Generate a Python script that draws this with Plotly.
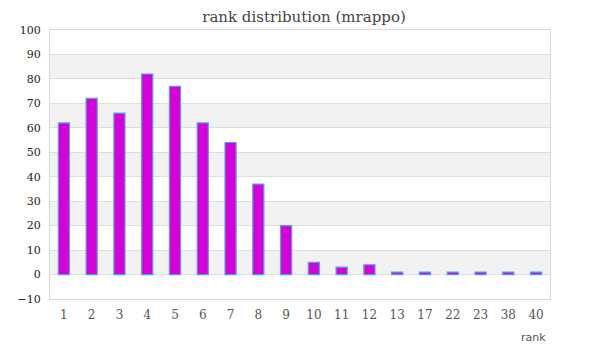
import plotly.graph_objects as go

ranks = ["1", "2", "3", "4", "5", "6", "7", "8", "9", "10", "11", "12", "13", "17", "22", "23", "38", "40"]
counts = [62, 72, 66, 82, 77, 62, 54, 37, 20, 5, 3, 4, 1, 1, 1, 1, 1, 1]
y_ticks = list(range(-10, 101, 10))

fig = go.Figure()
fig.add_trace(go.Bar(
    x=ranks, y=counts, width=0.4,
    marker=dict(color="#d800d8", line=dict(color="#4aa3f0", width=1.2)),
))

# alternating background bands
shapes = []
for lo in range(0, 100, 20):
    shapes.append(dict(type="rect", xref="paper", yref="y", x0=0, x1=1, y0=lo, y1=lo + 10,
                       fillcolor="#f2f2f2", line=dict(width=0), layer="below"))

serif = "Georgia, 'DejaVu Serif', 'Liberation Serif', serif"
fig.update_layout(
    width=592, height=352,
    margin=dict(l=42, r=50, t=22, b=61, autoexpand=False),
    paper_bgcolor="white", plot_bgcolor="white",
    showlegend=False,
    shapes=shapes,
    title=dict(text="rank distribution (mrappo)", x=0.5, xanchor="center", xref="container",
               yref="container", y=0.99, yanchor="top", automargin=False, pad=dict(t=0, b=0),
               font=dict(family=serif, size=15, color="#444")),
    xaxis=dict(type="category", showgrid=False, showline=True, linecolor="#d9d9d9", mirror=True,
               ticks="outside", ticklen=5, tickcolor="rgba(0,0,0,0)", automargin=False,
               tickfont=dict(family=serif, size=12, color="#555"), zeroline=False),
    yaxis=dict(range=[-10, 100], tickvals=y_ticks, showgrid=True, gridcolor="#dedede",
               showline=True, linecolor="#d9d9d9", mirror=True, zeroline=False, automargin=False,
               ticks="outside", ticklen=6, tickcolor="rgba(0,0,0,0)",
               tickfont=dict(family=serif, size=11, color="#222")),
    annotations=[dict(text="rank", xref="paper", yref="paper", x=0.995, y=-0.11, xanchor="right",
                      yanchor="top", showarrow=False,
                      font=dict(family="'DejaVu Sans', sans-serif", size=11, color="#555"))],
    bargap=0.6,
)
fig.write_html("out.html")
